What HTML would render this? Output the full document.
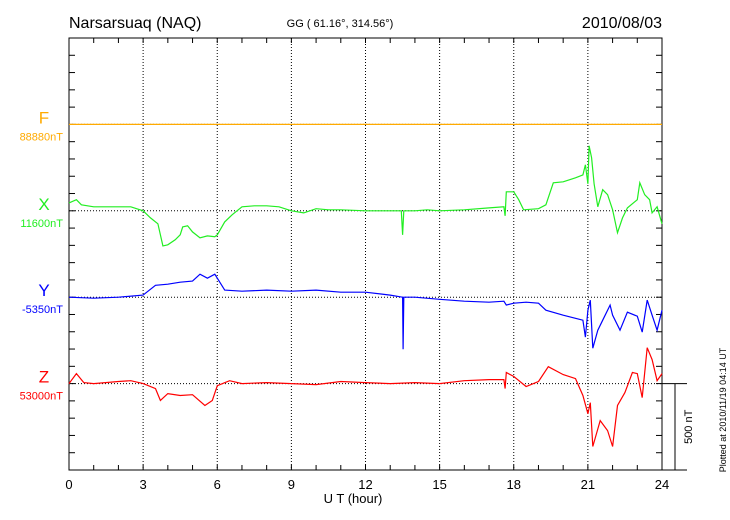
<!DOCTYPE html>
<html><head><meta charset="utf-8"><style>
body{margin:0;background:#fff}
svg{display:block;font-family:"Liberation Sans",sans-serif}
</style></head><body>
<svg id="chart" width="730" height="520">
<text x="69" y="28" font-size="16">Narsarsuaq (NAQ)</text>
<text x="340" y="27" font-size="11" text-anchor="middle">GG ( 61.16°, 314.56°)</text>
<text x="662" y="28" font-size="16" text-anchor="end">2010/08/03</text>
<text x="353" y="503" font-size="13" text-anchor="middle">U T (hour)</text>
<text transform="translate(726,410) rotate(-90)" font-size="9" text-anchor="middle">Plotted at 2010/11/19 04:14 UT</text>
<g id="grid"></g><g id="axes"></g><g id="series"></g><g id="labels"></g>
</svg>
<script>
const hours=[0,3,6,9,12,15,18,21,24];
const seriesNames=["F","X","Y","Z"];
const baselineLabels=["88880nT","11600nT","-5350nT","53000nT"];
const seriesColors=["#ffaa00","#22ee22","#0000ff","#ff0000"];
const fT=[0,24];
const fV=[0,0];
const xT=[0,0.3,0.5,1,1.5,2,2.5,3,3.3,3.6,3.8,4,4.3,4.5,4.6,4.8,5,5.3,5.6,5.9,6,6.3,6.6,7,7.5,8,8.5,9,9.5,10,10.5,11,12,13,13.45,13.5,13.55,14,14.5,15,16,17,17.6,17.65,17.7,18,18.2,18.4,19,19.3,19.6,20,20.5,20.8,20.9,21,21.05,21.15,21.25,21.4,21.6,21.8,22,22.2,22.4,22.6,23,23.1,23.3,23.5,23.6,23.8,24];
const xV=[46,64,35,23,23,23,23,0,-41,-75,-203,-197,-168,-139,-93,-87,-122,-156,-145,-150,-139,-64,-23,23,29,29,23,0,-12,12,6,6,0,0,0,-139,0,0,6,0,6,17,23,-29,110,110,64,6,12,35,162,168,191,208,266,156,376,307,156,23,122,93,6,-127,-41,17,64,162,93,64,-12,23,-75];
const yT=[0,1,2,3,3.5,4,4.5,5,5.3,5.6,5.9,6,6.3,7,8,9,10,11,12,13,13.5,13.52,13.55,14,15,16,17,17.6,17.7,18,18.5,19,19.3,20,20.5,20.8,20.9,21,21.1,21.2,21.4,21.6,21.9,22,22.3,22.6,23,23.2,23.4,23.6,23.8,24];
const yV=[0,-6,0,12,69,75,87,93,133,110,133,110,41,35,41,35,41,29,29,12,0,-301,0,0,-12,-23,-29,-23,-46,-35,-29,-35,-75,-104,-122,-133,-231,-75,-17,-295,-191,-133,-46,-104,-191,-87,-110,-202,-17,-104,-191,-75];
const zT=[0,0.3,0.6,1,2,2.5,3,3.5,3.7,4,4.5,5,5.5,5.8,6,6.5,7,8,9,10,11,12,13,14,15,16,17,17.6,17.65,17.7,18,18.5,19,19.4,20,20.5,20.8,21,21.1,21.2,21.5,21.8,22,22.2,22.5,22.8,23,23.2,23.4,23.6,23.8,24];
const zV=[0,58,6,0,12,17,0,-29,-98,-58,-69,-64,-127,-98,-12,17,0,6,0,-6,12,6,0,6,0,17,23,23,-29,64,41,-17,12,98,52,29,-69,-174,-110,-364,-214,-272,-364,-127,-52,64,58,-81,208,139,17,58];
const allT=[fT,xT,yT,zT], allV=[fV,xV,yV,zV];
const NS="http://www.w3.org/2000/svg";
const L=69,R=662,T=38,B=470,step=(B-T)/25;
const sx=h=>L+(R-L)*h/24;
const base=i=>T+(i+1)*5*step;
const sy=(i,v)=>base(i)-v*step/100;
function mk(tag,attrs,parent){const e=document.createElementNS(NS,tag);for(const k in attrs)e.setAttribute(k,attrs[k]);parent.appendChild(e);return e;}
const grid=document.getElementById('grid'),axes=document.getElementById('axes'),ser=document.getElementById('series'),lab=document.getElementById('labels');
hours.forEach(h=>{if(h>0&&h<24){const g=mk('line',{x1:sx(h),x2:sx(h),y1:T,y2:B,stroke:'#000','stroke-width':1,'stroke-dasharray':'1,2'},grid);

}
const t=mk('text',{x:sx(h),y:489,'font-size':13,'text-anchor':'middle'},lab);t.textContent=h;

});
for(let i=0;i<4;i++){const g=mk('line',{x1:L,x2:R,y1:base(i),y2:base(i),stroke:'#000','stroke-width':1,'stroke-dasharray':'1,2'},grid);

}
mk('rect',{x:L,y:T,width:R-L,height:B-T,fill:'none',stroke:'#000','stroke-width':1},axes);
mk('line',{x1:R,x2:687,y1:B,y2:B,stroke:'#000'},axes);
mk('line',{x1:R,x2:687,y1:base(3),y2:base(3),stroke:'#000'},axes);
mk('line',{x1:675,x2:675,y1:base(3),y2:B,stroke:'#000'},axes);
const sc=mk('text',{transform:'translate(692,'+((base(3)+B)/2)+') rotate(-90)','font-size':11,'text-anchor':'middle'},lab);sc.textContent='500 nT';


for(let k=1;k<25;k++){const y=T+k*step;mk('line',{x1:L,x2:L+6,y1:y,y2:y,stroke:'#000'},axes);mk('line',{x1:R,x2:R-6,y1:y,y2:y,stroke:'#000'},axes);}
for(let h=1;h<24;h++){mk('line',{x1:sx(h),x2:sx(h),y1:T,y2:T+5,stroke:'#000'},axes);mk('line',{x1:sx(h),x2:sx(h),y1:B,y2:B-5,stroke:'#000'},axes);}
for(let i=0;i<4;i++){
const pts=allT[i].map((t,j)=>sx(t).toFixed(1)+','+sy(i,allV[i][j]).toFixed(1)).join(' ');
const p=mk('polyline',{points:pts,fill:'none',stroke:seriesColors[i],'stroke-width':1.2},ser);


const n=mk('text',{x:44,y:base(i)-1,'font-size':17,'text-anchor':'middle',fill:seriesColors[i]},lab);n.textContent=seriesNames[i];


const b=mk('text',{x:63,y:base(i)+16,'font-size':11,'text-anchor':'end',fill:seriesColors[i]},lab);b.textContent=baselineLabels[i];


}
</script>
</body></html>
